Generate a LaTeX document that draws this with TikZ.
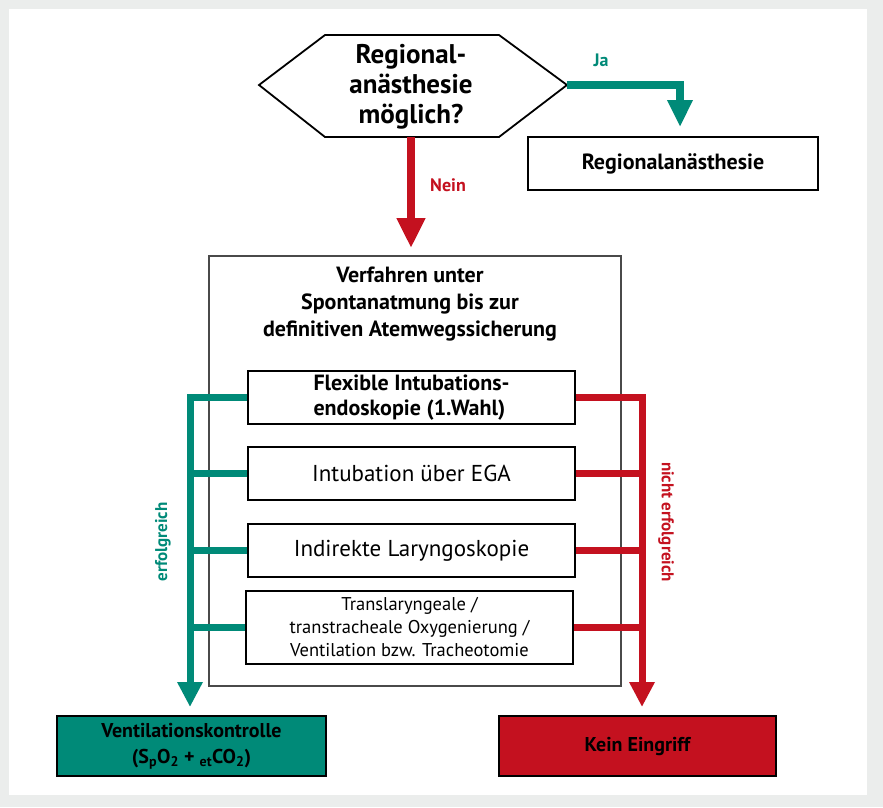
\documentclass[tikz,border=0pt]{standalone}
\usepackage{fontspec}
\setmainfont{PT Sans}
\usetikzlibrary{arrows.meta}
\definecolor{tealA}{HTML}{008A78}
\definecolor{redA}{HTML}{C4111F}
\definecolor{bgA}{HTML}{EBEDEC}
\definecolor{frameA}{HTML}{4A4A4A}
\begin{document}
\begin{tikzpicture}[x=1pt,y=-1pt,
  stepbox/.style={draw=black, line width=2.4pt, minimum width=327pt, minimum height=53pt, inner sep=0pt, align=center, font=\fontsize{23}{27}\selectfont},
  endbox/.style={draw=black, line width=2.6pt, minimum width=272pt, minimum height=60pt, inner sep=0pt, align=center, font=\bfseries\fontsize{20}{26}\selectfont},
  gline/.style={draw=tealA, line width=7pt, line join=miter},
  garrow/.style={gline, -{Triangle[length=25pt,width=24pt]}},
  rline/.style={draw=redA, line width=7pt, line join=miter},
  rarrow/.style={rline, -{Triangle[length=25pt,width=24pt]}},
  lbl/.style={font=\bfseries\fontsize{18}{20}\selectfont, inner sep=0pt}
]
\useasboundingbox (0,0) rectangle (883,807);
\fill[bgA] (0,0) rectangle (883,807);
\fill[white] (9,9) rectangle (867,795);

% decision hexagon
\coordinate (qW) at (259,85);
\coordinate (qE) at (567,85);
\coordinate (qS) at (411,137);
\draw[line width=1.8pt, line join=miter] (qW) -- (325,35) -- (499,35) -- (qE) -- (499,137) -- (325,137) -- cycle;
\node[align=center, font=\bfseries\fontsize{27}{30}\selectfont] (q) at (411,87) {Regional-\\an\"asthesie\\m\"oglich?};

% Regionalanaesthesie
\node[stepbox, font=\bfseries\fontsize{22}{26}\selectfont, minimum width=290pt] (regio) at (673,163.5) {Regionalan\"asthesie};
\coordinate (jaTurn) at (680,85);
\coordinate (jaTip) at (680,127);
\draw[line width=8pt, draw=tealA, line join=miter, -{Triangle[length=27pt,width=24pt]}] (qE) -- (jaTurn) -- (jaTip);
\node[lbl, text=tealA] (ja) at (601,60) {Ja};

% big box
\node[draw=frameA, line width=1.2pt, minimum width=412pt, minimum height=430pt, inner sep=0pt] (big) at (415,471) {};
\coordinate (nTip) at (411,248);
\draw[line width=8pt, draw=redA, -{Triangle[length=30pt,width=27pt]}] (qS) -- (nTip);
\node[lbl, text=redA] (nein) at (448,185) {Nein};

\node[align=center, font=\bfseries\fontsize{22}{27}\selectfont] (title) at (410,304) {Verfahren unter\\Spontanatmung bis zur\\definitiven Atemwegssicherung};

% steps
\node[stepbox, align=left, font=\bfseries\fontsize{22}{25}\selectfont] (b1) at (411.5,397.5) {Flexible Intubations-\\endoskopie (1.Wahl)};
\node[stepbox] (b2) at (411.5,473.5) {Intubation \"uber EGA};
\node[stepbox] (b3) at (411.5,550.5) {Indirekte Laryngoskopie};
\node[stepbox, minimum height=73pt, font=\fontsize{18.5}{23}\selectfont] (b4) at (409.5,627.5) {Translaryngeale /\\transtracheale Oxygenierung /\\Ventilation bzw. Tracheotomie};

% rails
\coordinate (gTop) at (190,397.5);
\coordinate (gTip) at (190,707);
\coordinate (rTop) at (642,397.5);
\coordinate (rTip) at (642,707);
\draw[garrow] (b1.west) -- (gTop) -- (gTip);
\draw[gline] (b2.west) -- (b2.west -| gTop);
\draw[gline] (b3.west) -- (b3.west -| gTop);
\draw[gline] (b4.west) -- (b4.west -| gTop);
\draw[rarrow] (b1.east) -- (rTop) -- (rTip);
\draw[rline] (b2.east) -- (b2.east -| rTop);
\draw[rline] (b3.east) -- (b3.east -| rTop);
\draw[rline] (b4.east) -- (b4.east -| rTop);

\node[lbl, text=tealA, rotate=90, font=\bfseries\fontsize{17}{19}\selectfont] (ok) at (163,542) {erfolgreich};
\node[lbl, text=redA, rotate=-90, font=\bfseries\fontsize{17}{19}\selectfont] (nok) at (666,522) {nicht erfolgreich};

% end boxes
\node[endbox, fill=tealA, minimum width=269pt] (vent) at (191.5,746) {Ventilationskontrolle\\(S\textsubscript{p}O\textsubscript{2} + \textsubscript{et}CO\textsubscript{2})};
\node[endbox, fill=redA, minimum width=277pt] (kein) at (637.5,746) {Kein Eingriff};
\end{tikzpicture}
\end{document}
